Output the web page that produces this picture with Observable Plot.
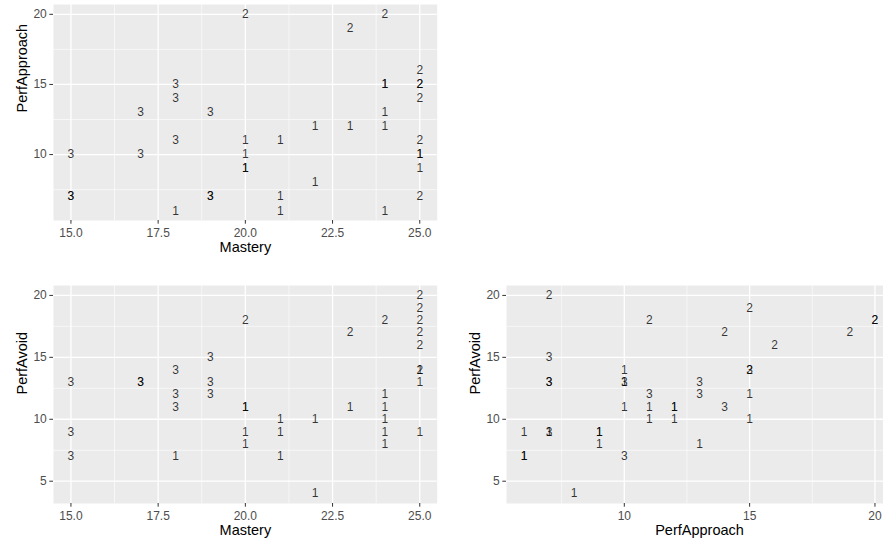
<!DOCTYPE html>
<html><head><meta charset="utf-8">
<script src="https://cdn.jsdelivr.net/npm/d3@7"></script>
<script src="https://cdn.jsdelivr.net/npm/@observablehq/plot@0.6"></script>
<style>
html,body{margin:0;padding:0;background:#fff;overflow:hidden;}
#wrap{position:relative;width:883px;height:545px;overflow:hidden;background:#fff;}
#wrap svg{position:absolute;}
</style></head><body><div id="wrap"></div>
<script>
// Observations: Mastery, PerfApproach, PerfAvoid, cluster label
const mastery      = [18,21,21,21,24,24,24,24,24,25,25,25,22,22,23,20,20,20,20, 20,24,23,25,25,25,25,25,25, 17,17,18,18,18,19,19,19,15,15,15];
const perfApproach = [ 6,11, 7, 6, 6,15,15,13,12,10,10, 9, 8,12,12,11,10, 9, 9, 20,20,19, 7,15,11,14,16,15, 13,10,15,14,11,13, 7, 7,10, 7, 7];
const perfAvoid    = [ 7,10, 9, 7, 9,12,10, 8,11,14,13, 9, 4,10,11,11,11, 9, 8, 18,18,17,20,19,18,17,16,14, 13,13,14,11,12,12,15,13, 7,13, 9];
const cluster      = [ 1, 1, 1, 1, 1, 1, 1, 1, 1, 1, 1, 1, 1, 1, 1, 1, 1, 1, 1,  2, 2, 2, 2, 2, 2, 2, 2, 2,  3, 3, 3, 3, 3, 3, 3, 3, 3, 3, 3];

const masteryTicks = [15, 17.5, 20, 22.5, 25];
const masteryMinor = [16.25, 18.75, 21.25, 23.75];
const approachTicksY = [10, 15, 20];
const approachMinorY = [7.5, 12.5, 17.5];
const approachTicksX = [10, 15, 20];
const approachMinorX = [7.5, 12.5, 17.5];
const avoidTicks = [5, 10, 15, 20];
const avoidMinor = [7.5, 12.5, 17.5];

const rows = mastery.map((m, i) => ({m, pa: perfApproach[i], pv: perfAvoid[i], c: String(cluster[i])}));
const font = "'Liberation Sans', Arial, Helvetica, sans-serif";
const wrap = document.getElementById("wrap");

function panel(o) {
  const p = Plot.plot({
    width: o.width, height: o.height,
    marginLeft: o.ml, marginRight: o.mr, marginTop: o.mt, marginBottom: o.mb,
    style: {fontFamily: font, background: "transparent", overflow: "visible"},
    x: {domain: o.xDomain},
    y: {domain: o.yDomain},
    marks: [
      Plot.frame({fill: "#EBEBEB", stroke: "none"}),
      Plot.gridX(o.xMinor, {stroke: "white", strokeOpacity: 1, strokeWidth: 0.6}),
      Plot.gridY(o.yMinor, {stroke: "white", strokeOpacity: 1, strokeWidth: 0.6}),
      Plot.gridX(o.xTicks, {stroke: "white", strokeOpacity: 1, strokeWidth: 1.3}),
      Plot.gridY(o.yTicks, {stroke: "white", strokeOpacity: 1, strokeWidth: 1.3}),
      Plot.axisX(o.xTicks, {tickFormat: o.xFmt, tickSize: 3.7, tickPadding: 4, fontSize: 12, fill: "#4D4D4D", stroke: "#333", label: null}),
      Plot.axisY(o.yTicks, {tickFormat: d => String(d), tickSize: 3.7, tickPadding: 3, fontSize: 12, fill: "#4D4D4D", stroke: "#333", label: null}),
      Plot.text(rows, {x: o.x, y: o.y, text: "c", fontSize: 12, fill: "black", fillOpacity: 0.78}),
      Plot.text([o.xLabel], {text: d => d, frameAnchor: "bottom", dy: 31, fontSize: 14.5, fill: "black"}),
      Plot.text([o.yLabel], {text: d => d, frameAnchor: "left", dx: -31, rotate: -90, fontSize: 14.5, fill: "black"})
    ]
  });
  p.style.left = o.left + "px";
  p.style.top = o.top + "px";
  wrap.appendChild(p);
}

panel({left: 0, top: 0, width: 440, height: 270, ml: 53, mr: 3.3, mt: 4, mb: 50,
  x: "m", y: "pa", xDomain: [14.5, 25.5], yDomain: [5.3, 20.7],
  xTicks: masteryTicks, xMinor: masteryMinor, yTicks: approachTicksY, yMinor: approachMinorY,
  xFmt: d => d.toFixed(1), xLabel: "Mastery", yLabel: "PerfApproach"});

panel({left: 0, top: 270, width: 440, height: 275, ml: 53, mr: 3.3, mt: 15, mb: 42,
  x: "m", y: "pv", xDomain: [14.5, 25.5], yDomain: [3.2, 20.8],
  xTicks: masteryTicks, xMinor: masteryMinor, yTicks: avoidTicks, yMinor: avoidMinor,
  xFmt: d => d.toFixed(1), xLabel: "Mastery", yLabel: "PerfAvoid"});

panel({left: 440, top: 270, width: 460, height: 275, ml: 66, mr: 8, mt: 15, mb: 42,
  x: "pa", y: "pv", xDomain: [5.3, 20.7], yDomain: [3.2, 20.8],
  xTicks: approachTicksX, xMinor: approachMinorX, yTicks: avoidTicks, yMinor: avoidMinor,
  xFmt: d => String(d), xLabel: "PerfApproach", yLabel: "PerfAvoid"});
</script>
</body></html>
